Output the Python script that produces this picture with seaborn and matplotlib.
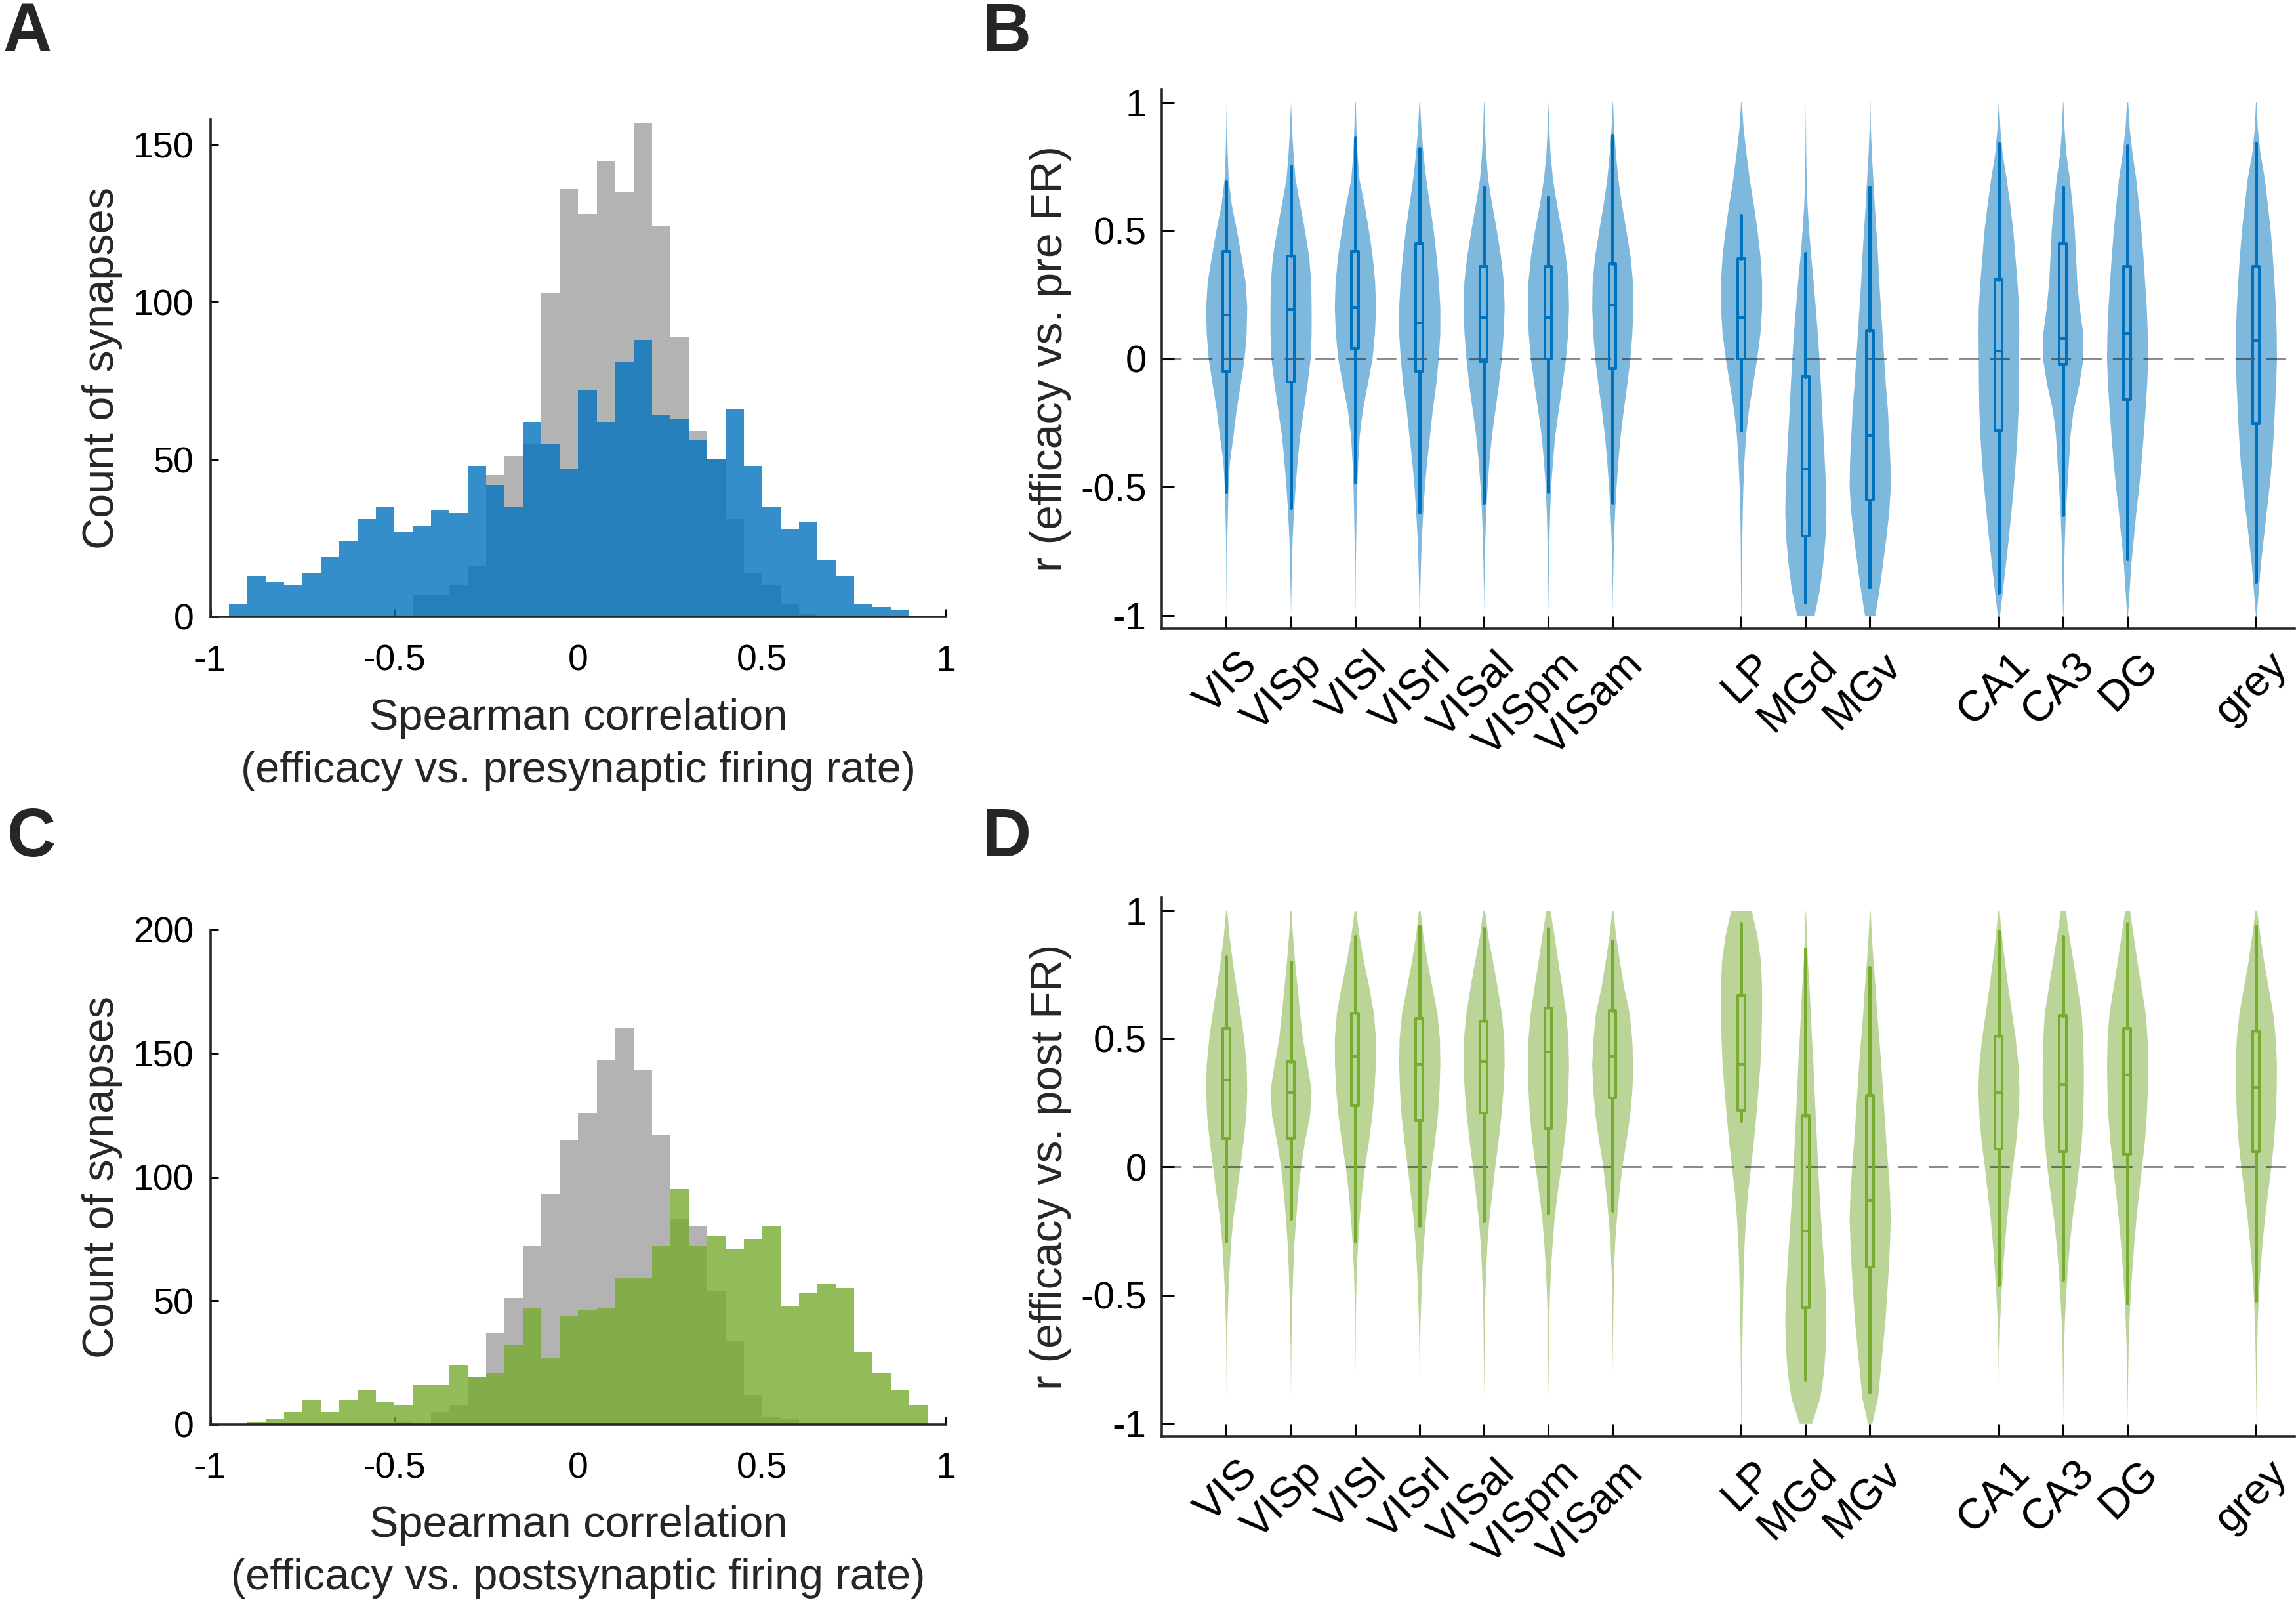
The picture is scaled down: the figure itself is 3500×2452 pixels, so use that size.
import numpy as np
import pandas as pd
import seaborn as sns
import matplotlib.pyplot as plt
from matplotlib.transforms import ScaledTranslation

bin_edges = np.linspace(-1, 1, 41)
bin_centres = np.round(bin_edges[:-1] + 0.025, 3)

pre_real = [0, 4, 13, 11, 10, 14, 19, 24, 31, 35,
            27, 29, 34, 33, 48, 42, 35, 62, 55, 47,
            72, 62, 81, 88, 64, 63, 56, 50, 66, 48,
            35, 28, 30, 18, 13, 4, 3, 2, 0, 0]
pre_shuffled = [0, 0, 0, 0, 0, 0, 0, 0, 0, 0,
                0, 7, 7, 10, 16, 45, 51, 55, 103, 136,
                128, 145, 135, 157, 124, 89, 59, 50, 31, 14,
                10, 4, 1, 0, 0, 0, 0, 0, 0, 0]
post_real = [0, 0, 1, 2, 5, 10, 5, 10, 14, 9,
             8, 16, 16, 24, 19, 21, 32, 47, 27, 44,
             46, 47, 59, 59, 72, 95, 72, 76, 71, 75,
             80, 48, 53, 57, 55, 29, 21, 14, 8, 0]
post_shuffled = [0, 0, 0, 0, 0, 0, 0, 0, 0, 0,
                 1, 0, 5, 8, 19, 37, 51, 72, 93, 115,
                 126, 147, 160, 143, 117, 83, 80, 54, 34, 12,
                 3, 2, 0, 0, 0, 0, 0, 0, 0, 0]

hist_ticks = [-1, -0.5, 0, 0.5, 1]
hist_tick_labels = ['-1', '-0.5', '0', '0.5', '1']

# violin panels
regions = ['VIS', 'VISp', 'VISl', 'VISrl', 'VISal', 'VISpm', 'VISam',
           'LP', 'MGd', 'MGv', 'CA1', 'CA3', 'DG', 'grey']
region_pos = [1, 2, 3, 4, 5, 6, 7, 9, 10, 11, 13, 14, 15, 17]
r_ticks = [-1, -0.5, 0, 0.5, 1]
r_tick_labels = ['-1', '-0.5', '0', '0.5', '1']

# relative violin width at r = -1, -0.9, ..., 1
levels = np.round(np.linspace(-1, 1, 21), 2)

pre_profiles = {
    'VIS':   [0, .01, .02, .03, .06, .09, .16, .33, .48, .68, .87, .97, 1, .92, .72, .5, .25, .1, .05, .02, 0],
    'VISp':  [0, .02, .04, .08, .14, .22, .32, .44, .62, .8, .95, 1, 1, .98, .88, .68, .45, .22, .12, .05, 0],
    'VISl':  [0, .01, .02, .04, .06, .09, .14, .21, .36, .6, .83, .95, 1, .96, .84, .66, .45, .2, .1, .05, .02],
    'VISrl': [.01, .03, .06, .1, .17, .25, .36, .5, .63, .8, .92, 1, 1, .93, .82, .68, .5, .32, .18, .08, .02],
    'VISal': [0, .01, .03, .06, .1, .17, .26, .38, .55, .72, .86, .95, 1, .96, .82, .62, .4, .2, .1, .04, .01],
    'VISpm': [0, .01, .02, .05, .08, .13, .22, .33, .5, .68, .85, .96, 1, .97, .85, .65, .42, .22, .1, .04, 0],
    'VISam': [0, .01, .03, .06, .11, .18, .27, .38, .53, .7, .85, .95, 1, .98, .86, .66, .45, .27, .15, .06, .01],
    'LP':    [.01, .02, .03, .04, .06, .09, .14, .22, .36, .56, .76, .92, 1, 1, .92, .78, .6, .4, .24, .1, .02],
    'MGd':   [.42, .68, .84, .95, 1, .98, .92, .86, .79, .73, .66, .58, .48, .38, .26, .16, .08, .04, .02, .01, 0],
    'MGv':   [.25, .45, .62, .78, .92, 1, .98, .92, .86, .76, .68, .6, .52, .44, .38, .3, .22, .15, .08, .03, .01],
    'CA1':   [.05, .2, .34, .48, .6, .72, .82, .9, .95, .97, .98, .99, .98, .9, .8, .7, .55, .38, .18, .07, .01],
    'CA3':   [.01, .03, .05, .08, .13, .2, .28, .35, .5, .78, .98, .97, .8, .68, .62, .56, .45, .32, .15, .06, .01],
    'DG':    [.02, .1, .18, .3, .42, .56, .68, .78, .87, .95, 1, .98, .93, .85, .77, .67, .55, .42, .24, .1, .03],
    'grey':  [.02, .12, .22, .36, .5, .64, .76, .84, .9, .96, 1, .99, .95, .88, .8, .7, .56, .42, .2, .07, .02],
}
post_profiles = {
    'VIS':   [0, 0, .01, .02, .04, .08, .14, .21, .32, .5, .66, .82, .95, 1, .97, .85, .68, .48, .3, .14, .03],
    'VISp':  [0, 0, .01, .02, .04, .07, .11, .16, .25, .35, .48, .68, .92, 1, .8, .58, .44, .32, .2, .1, .02],
    'VISl':  [0, 0, 0, .01, .02, .04, .07, .13, .21, .32, .46, .66, .82, .93, .99, 1, .9, .68, .42, .2, .04],
    'VISrl': [0, 0, .01, .02, .04, .08, .13, .2, .3, .44, .58, .74, .88, .96, 1, .98, .86, .62, .38, .18, .04],
    'VISal': [0, 0, .01, .02, .03, .06, .1, .16, .26, .4, .54, .7, .84, .94, 1, .98, .86, .66, .44, .2, .05],
    'VISpm': [0, 0, .01, .02, .04, .07, .12, .2, .3, .45, .62, .78, .9, .97, 1, .97, .86, .68, .48, .3, .1],
    'VISam': [0, 0, 0, .01, .02, .04, .06, .11, .2, .32, .46, .66, .84, .95, 1, .94, .82, .55, .35, .16, .03],
    'LP':    [.01, .02, .03, .04, .06, .08, .11, .15, .22, .32, .46, .6, .72, .82, .92, .97, 1, 1, .95, .78, .5],
    'MGd':   [.3, .7, .88, .97, 1, .97, .9, .82, .74, .66, .6, .54, .48, .42, .37, .3, .24, .18, .1, .05, .01],
    'MGv':   [.1, .38, .5, .62, .74, .82, .9, .96, 1, .96, .88, .78, .7, .62, .54, .44, .34, .26, .16, .08, .02],
    'CA1':   [0, 0, .01, .03, .06, .12, .2, .29, .4, .54, .68, .84, .95, 1, .95, .82, .64, .46, .3, .15, .03],
    'CA3':   [0, .01, .02, .04, .08, .14, .22, .32, .45, .62, .77, .9, .97, 1, 1, .97, .9, .7, .5, .3, .12],
    'DG':    [0, .01, .03, .05, .09, .15, .23, .32, .43, .56, .7, .84, .93, .98, 1, .97, .88, .68, .48, .3, .12],
    'grey':  [0, .01, .02, .04, .07, .12, .2, .3, .42, .57, .73, .86, .94, .99, 1, .95, .82, .6, .38, .2, .04],
}

# box summaries: lower whisker, q1, median, q3, upper whisker
pre_whislo = [-0.52, -0.58, -0.48, -0.60, -0.56, -0.52, -0.56, -0.28, -0.95, -0.89, -0.91, -0.61, -0.78, -0.87]
pre_q1 = [-0.05, -0.09, 0.04, -0.05, -0.01, 0.0, -0.04, 0.0, -0.69, -0.55, -0.28, -0.02, -0.16, -0.25]
pre_median = [0.17, 0.19, 0.20, 0.14, 0.16, 0.16, 0.21, 0.16, -0.43, -0.30, 0.03, 0.08, 0.10, 0.07]
pre_q3 = [0.42, 0.40, 0.42, 0.45, 0.36, 0.36, 0.37, 0.39, -0.07, 0.11, 0.31, 0.45, 0.36, 0.36]
pre_whishi = [0.69, 0.75, 0.86, 0.82, 0.67, 0.63, 0.87, 0.56, 0.41, 0.67, 0.84, 0.67, 0.83, 0.84]

post_whislo = [-0.29, -0.20, -0.29, -0.23, -0.21, -0.18, -0.17, 0.18, -0.83, -0.88, -0.46, -0.44, -0.53, -0.52]
post_q1 = [0.11, 0.11, 0.24, 0.18, 0.21, 0.15, 0.27, 0.22, -0.55, -0.39, 0.07, 0.06, 0.05, 0.06]
post_median = [0.34, 0.29, 0.43, 0.40, 0.41, 0.45, 0.43, 0.40, -0.25, -0.13, 0.29, 0.32, 0.36, 0.31]
post_q3 = [0.54, 0.41, 0.60, 0.58, 0.57, 0.62, 0.61, 0.67, 0.20, 0.28, 0.51, 0.59, 0.54, 0.53]
post_whishi = [0.82, 0.80, 0.90, 0.94, 0.93, 0.93, 0.88, 0.95, 0.85, 0.78, 0.92, 0.90, 0.95, 0.94]

BLUE = '#0072BD'
GREEN = '#77AC30'
GREY = '#B3B3B3'

DPI = 200


def style_axis(ax, tick_len, labelsize):
    sns.despine(ax=ax)
    for side in ['left', 'bottom']:
        ax.spines[side].set_linewidth(1.3)
    ax.tick_params(direction='in', length=tick_len, width=1.1, labelsize=labelsize,
                   colors='black')


def draw_hist(ax, real, shuffled, color, ymax, yticks, xlabel):
    counts = pd.DataFrame({'r': bin_centres, 'real': real, 'shuffled': shuffled})
    edges = list(bin_edges)
    # shuffled (grey) underneath, observed on top
    sns.histplot(data=counts, x='r', weights='shuffled', bins=edges, color=GREY,
                 alpha=1, linewidth=0, ax=ax)
    sns.histplot(data=counts, x='r', weights='real', bins=edges, color=color,
                 alpha=0.8, linewidth=0, ax=ax)
    ax.set_xlim(-1, 1)
    ax.set_ylim(0, ymax)
    ax.set_xticks(hist_ticks)
    ax.set_xticklabels(hist_tick_labels)
    ax.set_yticks(yticks)
    ax.set_yticklabels([str(t) for t in yticks])
    style_axis(ax, 4.3, 20)
    ax.tick_params(axis='x', pad=15)
    ax.tick_params(axis='y', pad=9)
    ax.set_ylabel('Count of synapses', fontsize=24)
    ax.yaxis.set_label_coords(-0.119, 0.5)
    ax.set_xlabel(xlabel, fontsize=24, linespacing=1.37, va='top')
    ax.xaxis.set_label_coords(0.5, -0.164)


def draw_violins(ax, profiles, whislo, q1, med, q3, whishi, color, ylabel):
    for name, pos in zip(regions, region_pos):
        half = np.array(profiles[name]) * 0.32
        ax.fill_betweenx(levels, pos - half, pos + half, color=color,
                         alpha=0.5, linewidth=0, zorder=1)
    ax.axhline(0, color='black', alpha=0.45, lw=1.1, dashes=(9.8, 5.5), zorder=2)
    stats = []
    for i in range(len(regions)):
        stats.append({'whislo': whislo[i], 'q1': q1[i], 'med': med[i],
                      'q3': q3[i], 'whishi': whishi[i], 'fliers': []})
    ax.bxp(stats, positions=region_pos, widths=0.11, showfliers=False,
           showcaps=False, manage_ticks=False,
           boxprops=dict(color=color, lw=1.45),
           whiskerprops=dict(color=color, lw=1.8),
           medianprops=dict(color=color, lw=1.45))
    for artist in ax.lines[1:]:
        artist.set_zorder(3)
    ax.set_xlim(0, 17.6)
    ax.set_ylim(-1.05, 1.05)
    ax.set_yticks(r_ticks)
    ax.set_yticklabels(r_tick_labels)
    ax.set_xticks(region_pos)
    ax.set_xticklabels(regions, rotation=45, ha='right', va='center',
                       rotation_mode='anchor')
    style_axis(ax, 6.8, 21)
    ax.tick_params(axis='x', labelsize=23.5, pad=0)
    ax.tick_params(axis='y', pad=8.5)
    shift = ScaledTranslation(38 / DPI, -47 / DPI, ax.figure.dpi_scale_trans)
    for lab in ax.get_xticklabels():
        lab.set_transform(lab.get_transform() + shift)
    ax.set_ylabel(ylabel, fontsize=24.5)
    ax.yaxis.set_label_coords(-0.080, 0.5)


def main():
    sns.set_style('ticks')
    plt.rcParams['font.family'] = ['Liberation Sans', 'DejaVu Sans']

    fig = plt.figure(figsize=(3500 / DPI, 2452 / DPI), dpi=DPI)

    ax_a = fig.add_axes([0.0916, 0.6167, 0.3205, 0.3089])
    ax_c = fig.add_axes([0.0916, 0.1147, 0.3205, 0.3076])
    ax_b = fig.add_axes([0.5061, 0.6095, 0.4933, 0.3350])
    ax_d = fig.add_axes([0.5061, 0.1073, 0.4933, 0.3348])

    draw_hist(ax_a, pre_real, pre_shuffled, BLUE, 158, [0, 50, 100, 150],
              'Spearman correlation\n(efficacy vs. presynaptic firing rate)')
    draw_hist(ax_c, post_real, post_shuffled, GREEN, 200, [0, 50, 100, 150, 200],
              'Spearman correlation\n(efficacy vs. postsynaptic firing rate)')

    draw_violins(ax_b, pre_profiles, pre_whislo, pre_q1, pre_median, pre_q3,
                 pre_whishi, BLUE, 'r (efficacy vs. pre FR)')
    draw_violins(ax_d, post_profiles, post_whislo, post_q1, post_median, post_q3,
                 post_whishi, GREEN, 'r (efficacy vs. post FR)')

    # panel letters
    for letter, x, y in [('A', 0.0012, 1 - 78 / 2452), ('B', 1497 / 3500, 1 - 78 / 2452),
                         ('C', 0.0030, 1 - 1305 / 2452), ('D', 1497 / 3500, 1 - 1305 / 2452)]:
        fig.text(x, y, letter, fontsize=37, fontweight='bold', ha='left', va='baseline')

    fig.savefig('out.png', dpi=DPI, facecolor='white')


if __name__ == "__main__":
    main()
